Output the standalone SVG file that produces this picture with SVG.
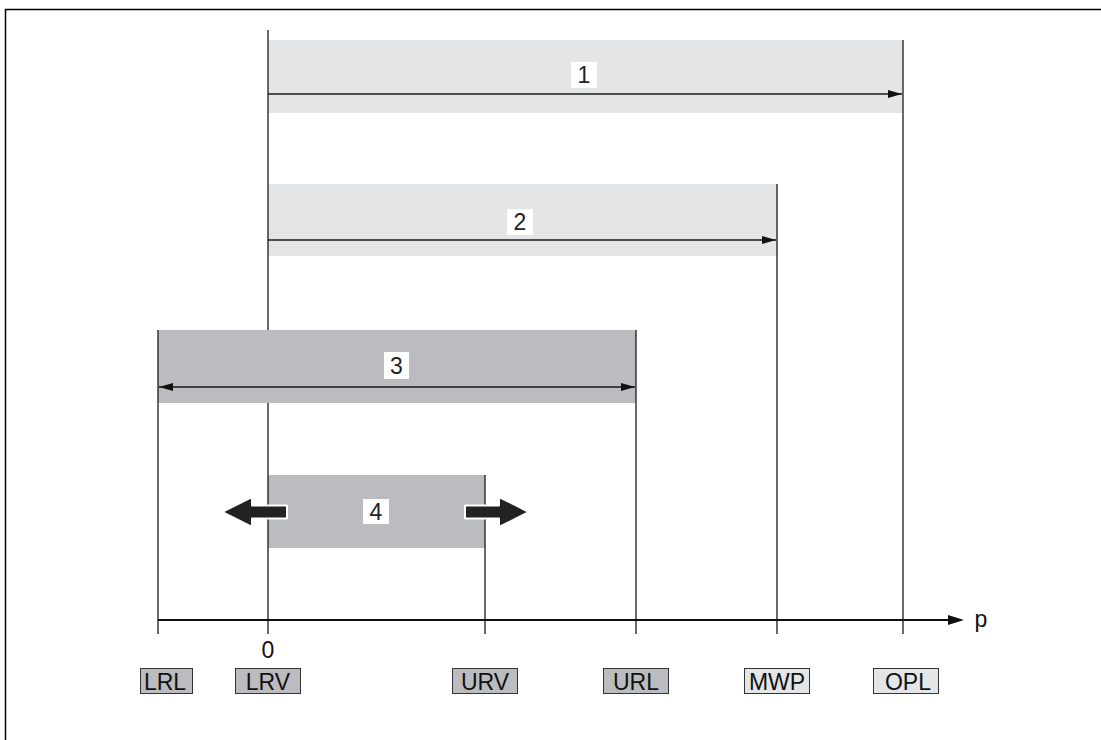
<svg xmlns="http://www.w3.org/2000/svg" width="1101" height="740" viewBox="0 0 1101 740">
  <style>
    .band-light { fill: #e4e5e7; }
    .band-dark { fill: #bbbcc0; }
    .line { stroke: #1a1a1a; stroke-width: 1.3; fill: none; }
    .axis { stroke: #111; stroke-width: 2; fill: none; }
    .num { font-family: "Liberation Sans", Arial, sans-serif; font-size: 23px; fill: #222; text-anchor: middle; }
    .tag { font-family: "Liberation Sans", Arial, sans-serif; font-size: 23px; fill: #111; text-anchor: middle; }
    .tagbox-dark { fill: #bbbcc0; stroke: #333; stroke-width: 1; }
    .tagbox-light { fill: #e4e5e7; stroke: #333; stroke-width: 1; }
    .numbox { fill: #fff; }
    .fat { fill: #222; stroke: #fff; stroke-width: 2; stroke-linejoin: round; }
  </style>
  <defs>
    <marker id="head" markerWidth="14" markerHeight="8" refX="14" refY="4" orient="auto" markerUnits="userSpaceOnUse">
      <path d="M0,0 L14,4 L0,8 Z" fill="#111"/>
    </marker>
    <marker id="tail" markerWidth="14" markerHeight="8" refX="0" refY="4" orient="auto" markerUnits="userSpaceOnUse">
      <path d="M14,0 L0,4 L14,8 Z" fill="#111"/>
    </marker>
  </defs>

  <!-- frame -->
  <path d="M5.5,740 L5.5,9.5 L1101,9.5" stroke="#000" stroke-width="1.5" fill="none"/>

  <!-- range bands -->
  <g id="range-1">
    <rect class="band-light" x="268" y="40" width="635" height="73"/>
    <rect class="numbox" x="571" y="62" width="26" height="26"/>
    <text class="num" x="584" y="83">1</text>
  </g>
  <g id="range-2">
    <rect class="band-light" x="268" y="184" width="509" height="72"/>
    <rect class="numbox" x="507" y="209" width="26" height="26"/>
    <text class="num" x="520" y="230">2</text>
  </g>
  <g id="range-3">
    <rect class="band-dark" x="158" y="330" width="478" height="73"/>
    <rect class="numbox" x="384" y="352" width="25" height="27"/>
    <text class="num" x="396.5" y="374">3</text>
  </g>
  <g id="range-4">
    <rect class="band-dark" x="268" y="475" width="217" height="73"/>
    <rect class="numbox" x="363" y="499" width="26" height="25"/>
    <text class="num" x="376" y="520">4</text>
  </g>

  <!-- connectors: limit lines, dimension arrows, axis -->
  <g id="connectors">
    <line class="line" x1="268" y1="30" x2="268" y2="330"/>
    <line class="line" x1="268" y1="403" x2="268" y2="634"/>
    <line class="line" x1="903" y1="40" x2="903" y2="634"/>
    <line class="line" x1="777" y1="184" x2="777" y2="634"/>
    <line class="line" x1="636" y1="330" x2="636" y2="634"/>
    <line class="line" x1="158" y1="330" x2="158" y2="634"/>
    <line class="line" x1="485" y1="475" x2="485" y2="634"/>

    <line class="line" x1="268" y1="94" x2="902" y2="94" marker-end="url(#head)"/>
    <line class="line" x1="268" y1="240" x2="776" y2="240" marker-end="url(#head)"/>
    <line class="line" x1="159" y1="387" x2="635" y2="387" marker-start="url(#tail)" marker-end="url(#head)"/>

    <line class="axis" x1="158" y1="620" x2="950" y2="620"/>
    <path d="M948,615 L964,620 L948,625 Z" fill="#111"/>

    <polygon class="fat" points="287,505.5 252,505.5 252,497 222,512 252,527 252,518.5 287,518.5"/>
    <polygon class="fat" points="465,505.5 499,505.5 499,497 529,512 499,527 499,518.5 465,518.5"/>
  </g>

  <text class="tag" x="981" y="627">p</text>
  <text class="tag" x="268" y="658">0</text>

  <!-- limit tags -->
  <g id="tag-LRL">
    <rect class="tagbox-dark" x="140.5" y="668.5" width="52" height="25"/>
    <text class="tag" x="165" y="690">LRL</text>
  </g>
  <g id="tag-LRV">
    <rect class="tagbox-dark" x="235.5" y="668.5" width="65" height="25"/>
    <text class="tag" x="268" y="690">LRV</text>
  </g>
  <g id="tag-URV">
    <rect class="tagbox-dark" x="452.5" y="668.5" width="65" height="25"/>
    <text class="tag" x="485" y="690">URV</text>
  </g>
  <g id="tag-URL">
    <rect class="tagbox-dark" x="603.5" y="668.5" width="65" height="25"/>
    <text class="tag" x="636" y="690">URL</text>
  </g>
  <g id="tag-MWP">
    <rect class="tagbox-light" x="744.5" y="668.5" width="65" height="25"/>
    <text class="tag" x="777" y="690">MWP</text>
  </g>
  <g id="tag-OPL">
    <rect class="tagbox-light" x="873.5" y="668.5" width="65" height="25"/>
    <text class="tag" x="908" y="690">OPL</text>
  </g>
</svg>
